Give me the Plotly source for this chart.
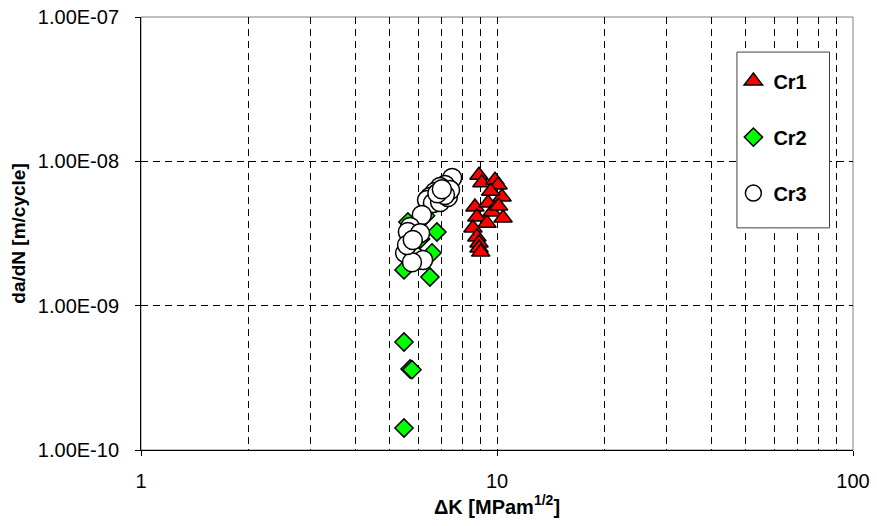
import plotly.graph_objects as go

# Cr1 (red triangles)
cr1_dk = [8.90, 9.07, 9.87, 10.07, 10.33, 8.67, 9.44, 9.68, 10.40, 8.78, 9.37, 8.56, 8.78, 8.90, 8.90, 9.00, 9.60, 10.10]
cr1_dadn = [8.0e-9, 7.1e-9, 7.4e-9, 6.85e-9, 5.66e-9, 4.82e-9, 5.14e-9, 4.46e-9, 4.05e-9, 4.11e-9, 3.73e-9, 3.45e-9, 2.99e-9, 2.72e-9, 2.51e-9, 2.35e-9, 6.2e-9, 4.9e-9]

# Cr2 (green diamonds)
cr2_dk = [5.48, 5.48, 5.70, 5.77, 5.48, 6.48, 6.57, 6.78, 5.62, 6.10, 6.30]
cr2_dadn = [1.42e-10, 5.6e-10, 3.64e-10, 3.6e-10, 1.77e-9, 1.58e-9, 2.32e-9, 3.24e-9, 3.8e-9, 2.9e-9, 4.2e-9]

# Cr3 (white circles)
cr3_dk = [7.48, 7.14, 6.92, 6.69, 6.48, 6.36, 6.61, 6.92, 7.28, 7.38, 7.14, 6.15, 5.70, 5.62, 6.08, 5.70, 5.52, 5.89, 6.20, 5.77, 5.59, 5.80, 6.80, 7.00]
cr3_dadn = [7.66e-9, 6.85e-9, 6.64e-9, 6.13e-9, 5.66e-9, 5.39e-9, 5.14e-9, 5.22e-9, 5.66e-9, 6.32e-9, 5.84e-9, 4.25e-9, 3.51e-9, 3.24e-9, 3.18e-9, 2.51e-9, 2.32e-9, 2.17e-9, 2.07e-9, 2.00e-9, 2.63e-9, 2.85e-9, 6.0e-9, 6.4e-9]

x_tickvals = [1, 10, 100]
x_ticktext = ["1", "10", "100"]
x_minorvals = [2, 3, 4, 5, 6, 7, 8, 9, 20, 30, 40, 50, 60, 70, 80, 90]
y_tickvals = [1e-10, 1e-9, 1e-8, 1e-7]
y_ticktext = ["1.00E-10", "1.00E-09", "1.00E-08", "1.00E-07"]

FONT = "Liberation Sans, Arial, sans-serif"
DASH = "7px,5px"

fig = go.Figure()
fig.add_trace(go.Scatter(
    x=cr1_dk, y=cr1_dadn, mode="markers", name="<b>Cr1</b>", legendgroup="a",
    marker=dict(symbol="triangle-up", size=16, color="#ff0000", line=dict(color="black", width=1.5)),
))
fig.add_trace(go.Scatter(
    x=cr2_dk, y=cr2_dadn, mode="markers", name="<b>Cr2</b>", legendgroup="b",
    marker=dict(symbol="diamond", size=14, color="#00ff00", line=dict(color="black", width=1.5)),
))
fig.add_trace(go.Scatter(
    x=cr3_dk, y=cr3_dadn, mode="markers", name="<b>Cr3</b>", legendgroup="c",
    marker=dict(symbol="circle", size=19, color="white", line=dict(color="black", width=1.5)),
))

# plot-area border (grey) and legend box
fig.add_shape(type="rect", xref="paper", yref="paper", x0=0, y0=0, x1=1, y1=1,
              line=dict(color="#808080", width=1), layer="below")
fig.add_shape(type="rect", xref="paper", yref="paper", x0=0.837, y0=0.513, x1=0.967, y1=0.919,
              line=dict(color="#404040", width=1), fillcolor="white", layer="above")

fig.update_layout(
    width=877, height=526,
    margin=dict(l=141, r=24, t=17, b=76),
    paper_bgcolor="white", plot_bgcolor="white",
    font=dict(family=FONT, size=20, color="black"),
    showlegend=True,
    legend=dict(
        x=0.832, y=0.897, xanchor="left", yanchor="top",
        bgcolor="rgba(0,0,0,0)", borderwidth=0,
        font=dict(family=FONT, size=20, color="black"),
        tracegroupgap=27, itemwidth=30,
    ),
    xaxis=dict(
        type="log", range=[0, 2], automargin=False,
        tickmode="array", tickvals=x_tickvals, ticktext=x_ticktext,
        showgrid=True, gridcolor="black", griddash=DASH, gridwidth=1,
        minor=dict(tickmode="array", tickvals=x_minorvals, showgrid=True,
                   gridcolor="black", griddash=DASH, gridwidth=1, ticks=""),
        showline=True, linecolor="black", linewidth=1,
        ticks="outside", ticklen=5, tickcolor="black",
        ticklabelstandoff=8, ticklabeloverflow="allow",
        zeroline=False,
        title=dict(text="<b>ΔK [MPam<sup>1/2</sup>]</b>", font=dict(family=FONT, size=20), standoff=8),
        tickfont=dict(family=FONT, size=20),
    ),
    yaxis=dict(
        type="log", range=[-10, -7], automargin=False,
        tickmode="array", tickvals=y_tickvals, ticktext=y_ticktext,
        showgrid=True, gridcolor="black", griddash=DASH, gridwidth=1,
        showline=True, linecolor="black", linewidth=1,
        ticks="outside", ticklen=5, tickcolor="black",
        ticklabelstandoff=12, ticklabeloverflow="allow",
        zeroline=False,
        title=dict(text="<b>da/dN [m/cycle]</b>", font=dict(family=FONT, size=19), standoff=7),
        tickfont=dict(family=FONT, size=20),
    ),
)

fig.write_html("out.html", config={"displayModeBar": False},
               post_script="document.body.style.margin='0';")
